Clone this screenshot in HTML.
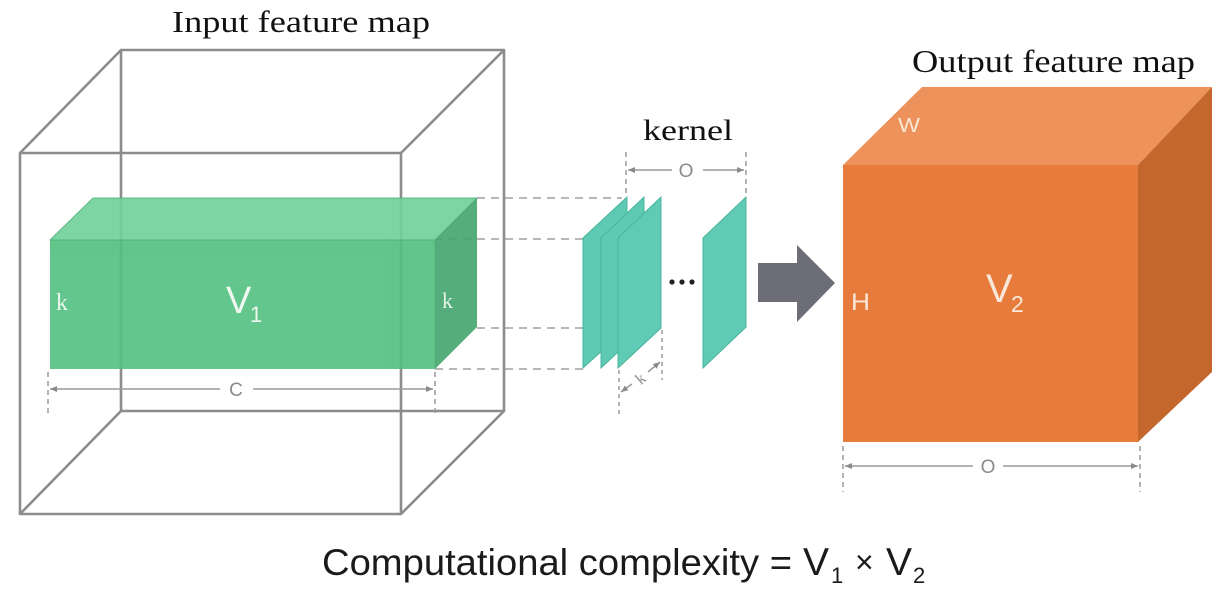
<!DOCTYPE html>
<html>
<head>
<meta charset="utf-8">
<style>
  html,body{margin:0;padding:0;background:#ffffff;}
  svg{display:block;}
</style>
</head>
<body>
<svg width="1223" height="593" viewBox="0 0 1223 593" xmlns="http://www.w3.org/2000/svg">
  <defs>
    <marker id="ah" markerWidth="8" markerHeight="8" refX="7" refY="4" orient="auto" markerUnits="userSpaceOnUse">
      <path d="M0,1 L7,4 L0,7 Z" fill="#8a8a8a"/>
    </marker>
  </defs>
  <rect width="1223" height="593" fill="#ffffff"/>

  <!-- Titles -->
  <text x="172" y="32" font-family="Liberation Serif, serif" font-size="31" fill="#111" textLength="258" lengthAdjust="spacingAndGlyphs">Input feature map</text>
  <text x="912" y="72" font-family="Liberation Serif, serif" font-size="32" fill="#111" textLength="283" lengthAdjust="spacingAndGlyphs">Output feature map</text>
  <text x="643" y="140" font-family="Liberation Serif, serif" font-size="30" fill="#111" textLength="90" lengthAdjust="spacingAndGlyphs">kernel</text>

  <!-- Wire cube (input feature map) -->
  <g stroke="#8c8c8c" stroke-width="2.6" fill="none" stroke-linejoin="round">
    <rect x="121" y="50" width="383" height="361"/>
    <rect x="20" y="153" width="381" height="361"/>
    <line x1="20" y1="153" x2="121" y2="50"/>
    <line x1="401" y1="153" x2="504" y2="50"/>
    <line x1="20" y1="514" x2="121" y2="411"/>
    <line x1="401" y1="514" x2="504" y2="411"/>
  </g>

  <!-- Dashed projection lines -->
  <g stroke="#a0a0a0" stroke-width="1.6" stroke-dasharray="8,6" fill="none">
    <line x1="477" y1="198" x2="622" y2="198"/>
    <line x1="435" y1="239" x2="583" y2="239"/>
    <line x1="477" y1="328" x2="583" y2="328"/>
    <line x1="435" y1="369" x2="583" y2="369"/>
  </g>

  <!-- Green box -->
  <g opacity="0.9">
    <polygon points="50,240 93,198 477,198 435,240" fill="#6fd19b"/>
    <polygon points="435,240 477,198 477,327 435,369" fill="#42a56c"/>
    <rect x="50" y="240" width="385" height="129" fill="#52c07f"/>
  </g>
  <g stroke="#4aae74" stroke-width="1" fill="none" opacity="0.8">
    <polyline points="50,240 93,198 477,198 435,240 50,240"/>
    <line x1="435" y1="240" x2="435" y2="369"/>
  </g>

  <!-- Labels on green box -->
  <text x="56" y="310" font-family="Liberation Serif, serif" font-size="24" fill="#eaf6ee">k</text>
  <text x="442" y="308" font-family="Liberation Serif, serif" font-size="22" fill="#e4f2e8">k</text>
  <text x="226" y="313" font-family="Liberation Sans, sans-serif" font-size="38" fill="#eef8f0">V</text>
  <text x="250" y="322" font-family="Liberation Sans, sans-serif" font-size="22" fill="#eef8f0">1</text>

  <!-- C dimension -->
  <g stroke="#9a9a9a" stroke-width="1.5" fill="none">
    <line x1="48" y1="372" x2="48" y2="416" stroke-dasharray="5,4"/>
    <line x1="435" y1="372" x2="435" y2="416" stroke-dasharray="5,4"/>
    <line x1="220" y1="389" x2="50" y2="389" marker-end="url(#ah)"/>
    <line x1="253" y1="389" x2="433" y2="389" marker-end="url(#ah)"/>
  </g>
  <text x="236" y="396" text-anchor="middle" font-family="Liberation Sans, sans-serif" font-size="19" fill="#8a8a8a">C</text>

  <!-- Kernel planes -->
  <g stroke="#48b49d" stroke-width="1">
    <polygon points="583,368 583,238 627,197 627,328" fill="#5ecab3"/>
    <polygon points="601,368 601,238 644,197 644,328" fill="#5ecab3"/>
    <polygon points="618,368 618,238 661,197 661,328" fill="#60cbb5"/>
    <polygon points="703,368 703,238 746,197 746,327" fill="#60cbb5"/>
  </g>
  <!-- ellipsis -->
  <circle cx="672" cy="282" r="2.6" fill="#222"/>
  <circle cx="682" cy="282" r="2.6" fill="#222"/>
  <circle cx="692" cy="282" r="2.6" fill="#222"/>

  <!-- kernel O dimension -->
  <g stroke="#9a9a9a" stroke-width="1.5" fill="none">
    <line x1="626" y1="152" x2="626" y2="197" stroke-dasharray="5,4"/>
    <line x1="746" y1="152" x2="746" y2="197" stroke-dasharray="5,4"/>
    <line x1="672" y1="170" x2="628" y2="170" marker-end="url(#ah)"/>
    <line x1="703" y1="170" x2="744" y2="170" marker-end="url(#ah)"/>
  </g>
  <text x="686" y="177" text-anchor="middle" font-family="Liberation Sans, sans-serif" font-size="19" fill="#8a8a8a">O</text>

  <!-- small k dimension -->
  <g stroke="#9a9a9a" stroke-width="1.5" fill="none">
    <line x1="619" y1="370" x2="619" y2="415" stroke-dasharray="4,4"/>
    <line x1="662" y1="330" x2="662" y2="380" stroke-dasharray="4,4"/>
    <line x1="632" y1="384" x2="621" y2="392" marker-end="url(#ah)"/>
    <line x1="648" y1="372" x2="660" y2="362" marker-end="url(#ah)"/>
  </g>
  <text x="640" y="384" text-anchor="middle" font-family="Liberation Serif, serif" font-size="16" fill="#8a8a8a" transform="rotate(-40 640 378)">k</text>

  <!-- Big gray arrow -->
  <polygon points="758,263 797,263 797,245 835,283 797,322 797,302 758,302" fill="#6d6d78"/>

  <!-- Orange cube -->
  <polygon points="843,165 922,87 1212,87 1138,165" fill="#ec925a"/>
  <polygon points="1138,165 1212,87 1212,372 1138,442" fill="#c4672d"/>
  <rect x="843" y="165" width="295" height="277" fill="#e77b3b"/>

  <text x="898" y="132" font-family="Liberation Sans, sans-serif" font-size="20" fill="#f8e6d6" textLength="22" lengthAdjust="spacingAndGlyphs">W</text>
  <text x="851" y="310" font-family="Liberation Sans, sans-serif" font-size="24" fill="#f8e6d6" textLength="19" lengthAdjust="spacingAndGlyphs">H</text>
  <text x="986" y="302" font-family="Liberation Sans, sans-serif" font-size="40" fill="#f8e8da">V</text>
  <text x="1011" y="312" font-family="Liberation Sans, sans-serif" font-size="23" fill="#f8e8da">2</text>

  <!-- Orange O dimension -->
  <g stroke="#9a9a9a" stroke-width="1.5" fill="none">
    <line x1="843" y1="446" x2="843" y2="492" stroke-dasharray="5,4"/>
    <line x1="1140" y1="446" x2="1140" y2="492" stroke-dasharray="5,4"/>
    <line x1="973" y1="466" x2="845" y2="466" marker-end="url(#ah)"/>
    <line x1="1003" y1="466" x2="1138" y2="466" marker-end="url(#ah)"/>
  </g>
  <text x="988" y="473" text-anchor="middle" font-family="Liberation Sans, sans-serif" font-size="19" fill="#8a8a8a">O</text>

  <!-- Bottom formula -->
  <text x="322" y="575" font-family="Liberation Sans, sans-serif" font-size="37" fill="#1a1a1a" textLength="470" lengthAdjust="spacingAndGlyphs">Computational complexity =</text>
  <text x="803" y="575" font-family="Liberation Sans, sans-serif" font-size="39" fill="#1a1a1a">V</text>
  <text x="831" y="583" font-family="Liberation Sans, sans-serif" font-size="22" fill="#1a1a1a">1</text>
  <text x="855" y="573" font-family="Liberation Sans, sans-serif" font-size="32" fill="#1a1a1a">×</text>
  <text x="886" y="575" font-family="Liberation Sans, sans-serif" font-size="39" fill="#1a1a1a">V</text>
  <text x="913" y="583" font-family="Liberation Sans, sans-serif" font-size="22" fill="#1a1a1a">2</text>
</svg>
</body>
</html>
